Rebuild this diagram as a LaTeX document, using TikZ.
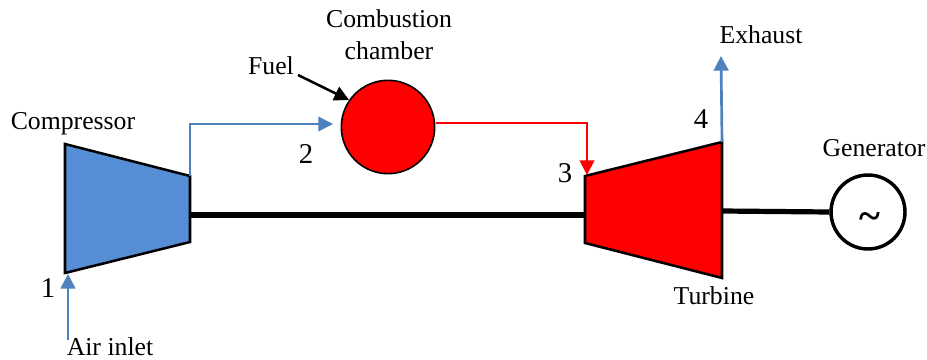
\documentclass[tikz,border=0pt]{standalone}
\usepackage{xcolor}
\usepackage{fontspec}
\setmainfont{Liberation Serif}
\usetikzlibrary{arrows.meta}
\definecolor{compblue}{HTML}{558ED5}
\definecolor{lineblue}{HTML}{4F81BD}
\tikzset{
  lbl/.style={inner sep=0pt,font=\fontsize{19.3}{24}\selectfont,align=center},
  num/.style={inner sep=0pt,font=\fontsize{21.5}{25}\selectfont},
  body/.style={draw=black,line width=1.9pt,line join=miter},
  shaft/.style={line width=3.9pt},
  flowblue/.style={draw=lineblue,line width=1.4pt,-{Triangle[length=11pt,width=11pt,fill=lineblue]}},
  flowred/.style={draw=red,line width=1.4pt,-{Triangle[length=11pt,width=11pt,fill=red]}}
}
\begin{document}
\begin{tikzpicture}[x=0.75pt,y=-0.75pt]
\useasboundingbox (0,0) rectangle (927,360);
% compressor and turbine
\coordinate (c1) at (65,144);
\coordinate (c2) at (190,176);
\coordinate (c3) at (190,242);
\coordinate (c4) at (65,273);
\coordinate (t1) at (585,176);
\coordinate (t2) at (722,142);
\coordinate (t3) at (722,278);
\coordinate (t4) at (585,243);
% shafts
\coordinate (s1) at (190,215);
\coordinate (s2) at (585,215);
\coordinate (s3) at (722,211);
\node[circle,draw=black,line width=2.6pt,minimum size=55.5pt,inner sep=0pt,fill=white] (gen) at (868,212) {};
\node[inner sep=0pt,font=\fontsize{30}{30}\selectfont\bfseries] (wave) at (870,221) {\char`\~};
\draw[shaft] (s1) -- (s2);
\draw[shaft] (s3) -- (gen.west);
\draw[body,fill=compblue] (c1) -- (c2) -- (c3) -- (c4) -- cycle;
\draw[body,fill=red] (t1) -- (t2) -- (t3) -- (t4) -- cycle;
% combustion chamber
\node[circle,draw=black,line width=1.2pt,minimum size=70pt,inner sep=0pt,fill=red] (cc) at (388,127) {};
% labels
\node[lbl] (ccl) at (389,35) {Combustion\\chamber};
\node[lbl] (fuel) at (271,66) {Fuel};
\node[lbl] (compl) at (73,124) {Compressor};
\node[lbl] (turb) at (714,296) {Turbine};
\node[lbl] (genl) at (874,148) {Generator};
\node[lbl] (exh) at (761,35) {Exhaust};
\node[lbl] (air) at (110,347) {Air inlet};
\node[num] (n1) at (48,288) {1};
\node[num] (n2) at (306,154) {2};
\node[num] (n3) at (565,173) {3};
\node[num] (n4) at (701,119) {4};
% flows
\coordinate (a1) at (190,124);
\coordinate (a2) at (333,124);
\coordinate (r1) at (436,123);
\coordinate (r2) at (587,123);
\coordinate (r3) at (587,175);
\coordinate (i1) at (68,340);
\coordinate (i2) at (68,274);
\coordinate (e2) at (721,56);
\coordinate (f1) at (298,75);
\coordinate (f2) at (349,100);
\draw[flowblue] (c2) -- (a1) -- (a2);
\draw[flowred] (r1) -- (r2) -- (r3);
\draw[flowblue,line width=2pt] (i1) -- (i2);
\draw[flowblue,line width=2pt] (t2) -- (e2);
\draw[line width=1.9pt,-{Triangle[length=11pt,width=11pt]}] (f1) -- (f2);
\end{tikzpicture}
\end{document}
